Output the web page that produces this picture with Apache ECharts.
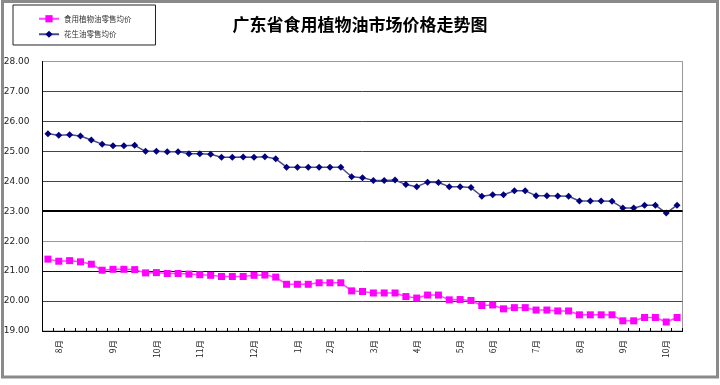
<!DOCTYPE html>
<html><head><meta charset="utf-8">
<script src="https://cdn.jsdelivr.net/npm/echarts@6/dist/echarts.min.js"></script>
<style>html,body{margin:0;padding:0;background:#fff;}#c{width:720px;height:385px;}</style>
</head><body><div id="c"></div>
<script>
const titleText = '广东省食用植物油市场价格走势图';
const seriesNames = ['食用植物油零售均价', '花生油零售均价'];
// month tick labels, one entry per observation (blank where no label)
const monthLabels = ['', '8月', '', '', '', '', '9月', '', '', '', '10月', '', '', '', '11月', '', '', '', '', '12月',
  '', '', '', '1月', '', '', '2月', '', '', '', '3月', '', '', '', '4月', '', '', '', '5月', '', '', '6月', '', '', '',
  '7月', '', '', '', '8月', '', '', '', '9月', '', '', '', '10月', ''];
const edibleOil = [21.40, 21.33, 21.35, 21.31, 21.23, 21.03, 21.06, 21.06, 21.05, 20.94, 20.95, 20.92, 20.92, 20.90, 20.88,
  20.86, 20.82, 20.82, 20.82, 20.86, 20.87, 20.80, 20.56, 20.56, 20.56, 20.61, 20.61, 20.61, 20.34, 20.32, 20.27, 20.27,
  20.27, 20.15, 20.10, 20.20, 20.20, 20.04, 20.05, 20.02, 19.85, 19.87, 19.74, 19.78, 19.78, 19.70, 19.70, 19.67, 19.67,
  19.54, 19.54, 19.54, 19.54, 19.34, 19.34, 19.45, 19.45, 19.30, 19.45];
const peanutOil = [25.59, 25.54, 25.55, 25.51, 25.38, 25.24, 25.19, 25.19, 25.20, 25.00, 25.00, 24.99, 24.99, 24.92, 24.92,
  24.90, 24.80, 24.80, 24.81, 24.80, 24.82, 24.75, 24.47, 24.47, 24.47, 24.47, 24.47, 24.47, 24.15, 24.12, 24.03, 24.03,
  24.04, 23.89, 23.82, 23.97, 23.96, 23.82, 23.82, 23.79, 23.50, 23.55, 23.55, 23.68, 23.68, 23.52, 23.52, 23.51, 23.50,
  23.34, 23.34, 23.34, 23.33, 23.11, 23.11, 23.20, 23.20, 22.94, 23.20];
const yMin = 19, yMax = 28, yStep = 1;

const chart = echarts.init(document.getElementById('c'), null, {renderer: 'canvas'});
const cats = monthLabels.map((m, i) => String(i));
chart.setOption({
  backgroundColor: '#fff',
  animation: false,
  title: {
    text: titleText, left: 'center', top: 11,
    textStyle: {fontFamily: 'Noto Sans CJK SC', fontSize: 17, fontWeight: 'bold', color: '#000'}
  },
  legend: {
    data: seriesNames, orient: 'vertical', left: 13, top: 5,
    padding: [10, 24, 7, 25], itemGap: 8, itemWidth: 20, itemHeight: 9,
    borderColor: '#222', borderWidth: 1,
    textStyle: {fontFamily: 'Noto Sans CJK SC', fontSize: 7.5, color: '#333'}
  },
  graphic: [{
    type: 'rect', shape: {x: 2.5, y: 1.5, width: 715, height: 375.5},
    style: {fill: null, stroke: '#8a8a8a', lineWidth: 3}, silent: true, z: 100
  }],
  grid: {left: 42.5, right: 37.5, top: 61.5, bottom: 54, show: true, borderColor: '#999', borderWidth: 1},
  xAxis: {
    type: 'category', data: cats, boundaryGap: true,
    axisLine: {lineStyle: {color: '#000', width: 1}},
    axisTick: {show: true, inside: true, length: 3, interval: 0, lineStyle: {color: '#000'}},
    axisLabel: {
      interval: 0, rotate: 90, margin: 9, fontSize: 8.5, color: '#222', fontFamily: 'Noto Sans CJK SC',
      formatter: (v, i) => monthLabels[i]
    },
    splitLine: {show: false}
  },
  yAxis: {
    type: 'value', min: yMin, max: yMax, interval: yStep,
    axisLine: {show: true, lineStyle: {color: '#000'}},
    axisTick: {show: false},
    axisLabel: {fontSize: 9, color: '#222', margin: 13, fontFamily: 'DejaVu Sans', formatter: v => v.toFixed(2)},
    splitLine: {show: true, lineStyle: {color: ['#000', '#444', '#111', '#999', '#000', '#444', '#444', '#444', '#444', '#999'], width: 1}}
  },
  series: [
    {
      name: seriesNames[0], type: 'line', data: edibleOil,
      symbol: 'rect', symbolSize: 7,
      itemStyle: {color: '#ff00ff'},
      lineStyle: {color: '#ff44ff', width: 1.5}
    },
    {
      name: seriesNames[1], type: 'line', data: peanutOil,
      symbol: 'diamond', symbolSize: 7,
      itemStyle: {color: '#000080'},
      lineStyle: {color: '#4b4b8c', width: 1.5},
      markLine: {
        silent: true, symbol: 'none', label: {show: false},
        lineStyle: {color: '#000', width: 2, type: 'solid'},
        data: [{yAxis: 23}]
      }
    }
  ]
});
</script></body></html>
